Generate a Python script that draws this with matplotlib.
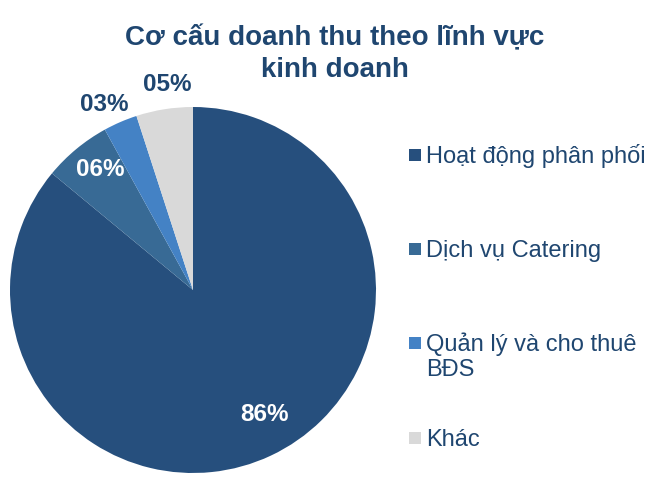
import numpy as np
import matplotlib.pyplot as plt
from matplotlib.patches import Rectangle

plt.rcParams['font.family'] = ['Liberation Sans', 'DejaVu Sans']

categories = ["Hoạt động phân phối", "Dịch vụ Catering", "Quản lý và cho thuê\nBĐS", "Khác"]
shares = [86, 6, 3, 5]
pct_labels = ["86%", "06%", "03%", "05%"]

colors = ["#264F7D", "#386A95", "#4482C5", "#D9D9D9"]
text_navy = "#1F4670"

# label placement: radius (in pie radii) and angle tweak (deg) per slice
label_r = [0.785, 0.83, 1.124, 1.129]
label_dang = [4.8, -1.8, 2.2, -1.9]
label_col = ["white", "white", text_navy, text_navy]

W, H = 665, 500
fig = plt.figure(figsize=(W / 100, H / 100), dpi=100)

# pie centre at (193, 290) px, radius 183 px
cx, cy, R = 193, 290, 183
ax = fig.add_axes([(cx - R) / W, (H - cy - R) / H, 2 * R / W, 2 * R / H])
wedges, _ = ax.pie(shares, colors=colors, startangle=90, counterclock=False,
                   radius=1.0, wedgeprops=dict(linewidth=0))
ax.set_xlim(-1, 1)
ax.set_ylim(-1, 1)
ax.set_aspect('equal')
ax.axis('off')

for w, lab, r, da, c in zip(wedges, pct_labels, label_r, label_dang, label_col):
    mid = np.deg2rad((w.theta1 + w.theta2) / 2 + da)
    ax.text(r * np.cos(mid), r * np.sin(mid), lab, ha='center', va='center',
            fontsize=17.5, fontweight='bold', color=c, clip_on=False)

title_lines = ["Cơ cấu doanh thu theo lĩnh vực", "kinh doanh"]
for i, line in enumerate(title_lines):
    fig.text(335 / W, 1 - (45 + 32 * i) / H, line, ha='center', va='baseline',
             fontsize=20, fontweight='bold', color=text_navy)

# legend, drawn by hand to get Excel-like spacing
legend_y = [155, 248.5, 342.5, 437.5]
for name, col, y in zip(categories, colors, legend_y):
    fig.patches.append(Rectangle((408.5 / W, 1 - (y + 6) / H), 12 / W, 12 / H,
                                 transform=fig.transFigure, facecolor=col,
                                 edgecolor='none'))
    for k, line in enumerate(name.split("\n")):
        fig.text(426 / W, 1 - (y + 8 + 26 * k) / H, line, ha='left',
                 va='baseline', fontsize=17, color=text_navy)

fig.savefig("out.png", dpi=100)
